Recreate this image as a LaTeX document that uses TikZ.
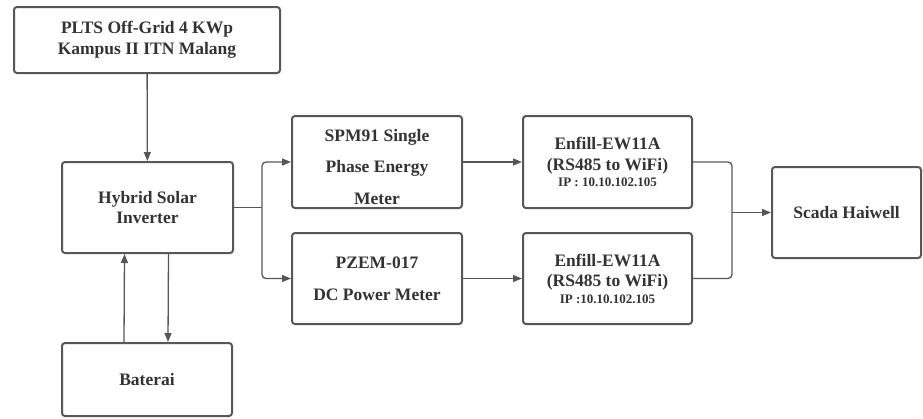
\documentclass[tikz,border=0pt]{standalone}
\usepackage{fontspec}
\setmainfont{Liberation Serif}
\usetikzlibrary{arrows.meta}
\definecolor{edge}{HTML}{575757}
\definecolor{ink}{HTML}{333333}
\begin{document}
\begin{tikzpicture}[x=1pt,y=-1pt]
    \tikzstyle{block}=[draw=edge,line width=2pt,rounded corners=3pt,fill=white,text=ink,align=center,font=\bfseries\fontsize{17.5}{20.5}\selectfont,inner sep=0pt]
    \tikzstyle{wire}=[draw=edge,line width=1.3pt,rounded corners=4pt]
    \tikzstyle{flow}=[wire,-{Triangle[length=9pt,width=7pt]}]
    \useasboundingbox (0,0) rectangle (923,418);

    \node[block,minimum width=266pt,minimum height=66pt] (plts) at (147,40) {PLTS Off-Grid 4 KWp\\Kampus II ITN Malang};
    \node[block,minimum width=171pt,minimum height=91pt] (inv) at (147.5,207.5) {Hybrid Solar\\Inverter};
    \node[block,minimum width=170pt,minimum height=73pt] (bat) at (147,379.5) {Baterai};
    \node[block,minimum width=170pt,minimum height=92pt] (spm) at (377,162) {};
      \node[text=ink,align=center,font=\bfseries\fontsize{17.5}{31.5}\selectfont,inner sep=0pt] (spmtext) at ([yshift=-5pt]spm.center) {SPM91 Single\\Phase Energy\\Meter};
    \node[block,minimum width=170pt,minimum height=91pt,font=\bfseries\fontsize{17.5}{32}\selectfont] (pzem) at (377,278.5) {PZEM-017\\DC Power Meter};
    \node[block,minimum width=169pt,minimum height=92pt] (enf1) at (607.5,162) {Enfill-EW11A\\(RS485 to WiFi)\\[-4pt]{\fontsize{13}{15}\selectfont IP : 10.10.102.105}};
    \node[block,minimum width=169pt,minimum height=91pt] (enf2) at (607.5,278.5) {Enfill-EW11A\\(RS485 to WiFi)\\[-4pt]{\fontsize{13}{15}\selectfont IP :10.10.102.105}};
    \node[block,minimum width=149pt,minimum height=91pt] (scada) at (846.5,212.5) {Scada Haiwell};

    \coordinate (split) at (262,207.5);
    \coordinate (merge) at (732,212.5);

    \draw[flow] (plts) -- (inv);
    \draw[flow] ([xshift=-23pt]bat.north) -- ([xshift=-23pt]inv.south);
    \draw[flow] ([xshift=21pt]inv.south) -- ([xshift=21pt]bat.north);
    \draw[wire] (inv.east) -- (split);
    \draw[flow] (split) |- (spm.west);
    \draw[flow] (split) |- (pzem.west);
    \draw[flow] (spm) -- (enf1);
    \draw[flow] (pzem) -- (enf2);
    \draw[wire] (enf1.east) -| (merge);
    \draw[wire] (enf2.east) -| (merge);
    \draw[flow] (merge) -- (scada.west);
\end{tikzpicture}
\end{document}
